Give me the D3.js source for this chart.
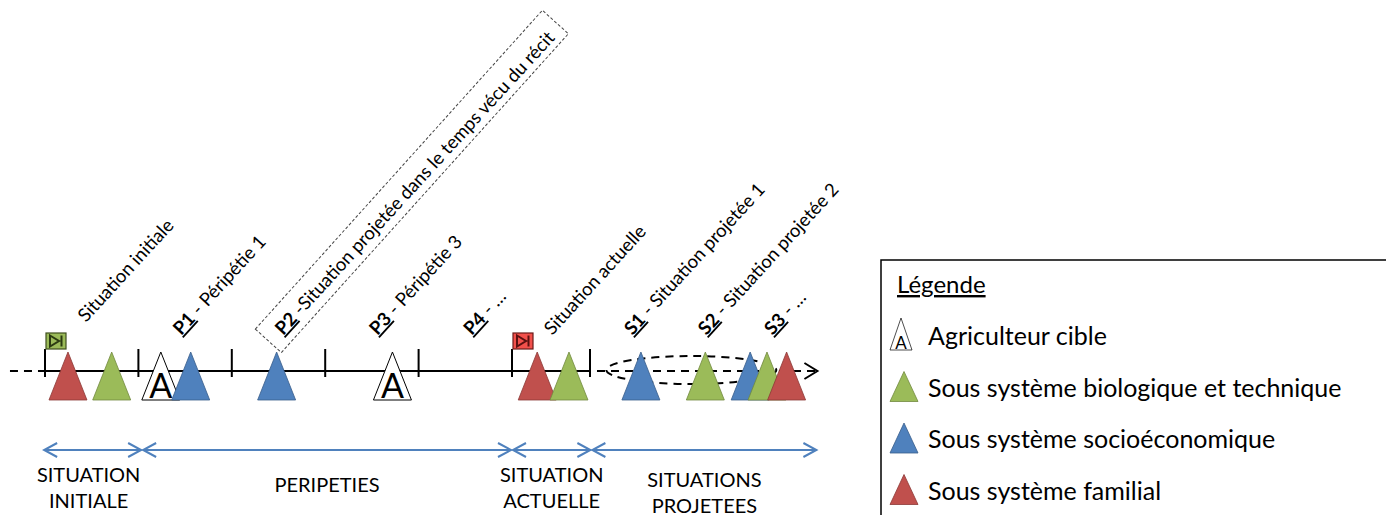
<!DOCTYPE html>
<html>
<head>
<meta charset="utf-8">
<script src="https://cdn.jsdelivr.net/npm/d3@7"></script>
<style>
  body { margin: 0; background: #fff; }
  text { font-family: Lato, "Open Sans", sans-serif; }
</style>
</head>
<body>
<script>
var WIDTH = 1386;
var HEIGHT = 515;

// timeline units: one unit = one interval between ticks
var ticks = [0, 1, 2, 3, 4, 5, 5.835];
var markerPos = [0.246, 0.714, 1.24, 1.56, 2.48, 3.72, 5.27, 5.61, 6.38, 7.07, 7.55, 7.73, 7.94];
var markerType = ["fam", "bio", "agri", "soc", "soc", "agri", "fam", "bio", "soc", "bio", "soc", "bio", "fam"];

var labelPos = [0.44, 1.46, 2.55, 3.56, 4.57, 5.43, 6.29, 7.08, 7.79];
var labelCode = ["", "P1", "P2", "P3", "P4", "", "S1", "S2", "S3"];
var labelText = ["Situation initiale", " - Péripétie 1", " -Situation projetée dans le temps vécu du récit",
  " - Péripétie 3", " - …", "Situation actuelle", " - Situation projetée 1", " - Situation projetée 2", " - …"];

var flagPos = [0, 5];
var flagType = ["start", "now"];

var phaseBounds = [-0.02, 1.04, 5.0, 5.85, 8.27];
var phaseLabels = [["SITUATION", "INITIALE"], ["PERIPETIES"], ["SITUATION", "ACTUELLE"], ["SITUATIONS", "PROJETEES"]];

var legendTypes = ["agri", "bio", "soc", "fam"];
var legendLabels = ["Agriculteur cible", "Sous système biologique et technique", "Sous système socioéconomique", "Sous système familial"];

var fills = { agri: "#ffffff", bio: "#9BBB59", soc: "#4F81BD", fam: "#C0504D" };
var strokes = { agri: "#000000", bio: "#71893F", soc: "#385D8A", fam: "#8C3836" };

var x = d3.scaleLinear().domain([0, 1]).range([45, 138.4]);
var LINE_Y = 371;
var ANGLE = -47.5;

var svg = d3.select("body")
  .append("svg")
  .attr("width", WIDTH)
  .attr("height", HEIGHT);

// dashed parts of the timeline
svg.append("line")
  .attr("x1", x(-0.375)).attr("x2", x(0))
  .attr("y1", LINE_Y).attr("y2", LINE_Y)
  .attr("stroke", "#000").attr("stroke-width", 2)
  .attr("stroke-dasharray", "8,6");

svg.append("line")
  .attr("x1", x(5.835) + 7).attr("x2", x(8.27))
  .attr("y1", LINE_Y).attr("y2", LINE_Y)
  .attr("stroke", "#000").attr("stroke-width", 2)
  .attr("stroke-dasharray", "8,6");

svg.append("path")
  .attr("d", "M" + (x(8.27) - 13) + "," + (LINE_Y - 8) + "L" + x(8.27) + "," + LINE_Y + "L" + (x(8.27) - 13) + "," + (LINE_Y + 8))
  .attr("fill", "none").attr("stroke", "#000").attr("stroke-width", 2);

// future cycle
svg.append("ellipse")
  .attr("cx", x(6.92)).attr("cy", LINE_Y - 1)
  .attr("rx", 85).attr("ry", 14)
  .attr("fill", "none").attr("stroke", "#000").attr("stroke-width", 2)
  .attr("stroke-dasharray", "8,6");

// solid timeline
svg.append("line")
  .attr("x1", x(0)).attr("x2", x(5.835))
  .attr("y1", LINE_Y).attr("y2", LINE_Y)
  .attr("stroke", "#000").attr("stroke-width", 2);

svg.selectAll(".tick")
  .data(ticks)
  .enter()
  .append("line")
  .attr("class", "tick")
  .attr("x1", function (d) { return x(d); })
  .attr("x2", function (d) { return x(d); })
  .attr("y1", LINE_Y - 22).attr("y2", LINE_Y + 6)
  .attr("stroke", "#000").attr("stroke-width", 2);

// flags
var flags = svg.selectAll(".flag")
  .data(flagPos)
  .enter()
  .append("g")
  .attr("class", "flag")
  .attr("transform", function (d) { return "translate(" + (x(d) + 1) + ",333)"; });

flags.append("rect")
  .attr("width", 20).attr("height", 16)
  .attr("fill", function (d, i) { return flagType[i] == "start" ? "#9BBB59" : "#F2504B"; })
  .attr("stroke", function (d, i) { return flagType[i] == "start" ? "#3F4F1F" : "#6B1A18"; })
  .attr("stroke-width", 1.2);

flags.append("path")
  .attr("d", "M4,2.5L13,8L4,13.5Z M15.5,2.5V13.5")
  .attr("fill", "none")
  .attr("stroke", function (d, i) { return flagType[i] == "start" ? "#2B3A12" : "#5A1010"; })
  .attr("stroke-width", 2);

// triangles
var TW = 38, TH = 48, BASE = 400;
var markers = svg.selectAll(".marker")
  .data(markerPos)
  .enter()
  .append("g")
  .attr("class", "marker")
  .attr("transform", function (d) { return "translate(" + x(d) + "," + BASE + ")"; });

markers.append("path")
  .attr("d", "M0," + (-TH) + "L" + (TW / 2) + ",0L" + (-TW / 2) + ",0Z")
  .attr("fill", function (d, i) { return fills[markerType[i]]; })
  .attr("stroke", function (d, i) { return strokes[markerType[i]]; })
  .attr("stroke-width", function (d, i) { return markerType[i] == "agri" ? 1 : 0.8; });

markers.filter(function (d, i) { return markerType[i] == "agri"; })
  .append("text")
  .attr("text-anchor", "middle")
  .attr("y", -2)
  .attr("font-size", 34)
  .attr("fill", "#000")
  .text("A");

// dashed box around P2
var p2 = labelCode.indexOf("P2");
svg.append("rect")
  .attr("x", -11).attr("y", -19.5)
  .attr("width", 429).attr("height", 35)
  .attr("transform", "translate(" + (x(labelPos[p2]) - 6) + ",334) rotate(-48)")
  .attr("fill", "none").attr("stroke", "#444").attr("stroke-width", 1)
  .attr("stroke-dasharray", "3,2");

// rotated labels
var labels = svg.selectAll(".label")
  .data(labelPos)
  .enter()
  .append("text")
  .attr("class", "label")
  .attr("font-size", 18.5)
  .attr("fill", "#000")
  .attr("transform", function (d, i) {
    var y = i == 0 ? 323 : 336;
    return "translate(" + x(d) + "," + y + ") rotate(" + ANGLE + ")";
  });

labels.append("tspan")
  .attr("font-weight", "bold")
  .attr("text-decoration", "underline")
  .text(function (d, i) { return labelCode[i]; });

labels.append("tspan")
  .text(function (d, i) { return labelText[i]; });

// phase arrows
var BLUE = "#4F81BD", ARROW_Y = 450;
var phases = d3.range(phaseLabels.length).map(function (i) {
  return { a: x(phaseBounds[i]) + 1, b: x(phaseBounds[i + 1]) - 1, lines: phaseLabels[i] };
});

var ph = svg.selectAll(".phase")
  .data(phases)
  .enter()
  .append("g")
  .attr("class", "phase");

ph.append("line")
  .attr("x1", function (d) { return d.a; })
  .attr("x2", function (d) { return d.b; })
  .attr("y1", ARROW_Y).attr("y2", ARROW_Y)
  .attr("stroke", BLUE).attr("stroke-width", 2);

ph.append("path")
  .attr("d", function (d) {
    return "M" + (d.a + 13) + "," + (ARROW_Y - 7) + "L" + d.a + "," + ARROW_Y + "L" + (d.a + 13) + "," + (ARROW_Y + 7) +
      "M" + (d.b - 13) + "," + (ARROW_Y - 7) + "L" + d.b + "," + ARROW_Y + "L" + (d.b - 13) + "," + (ARROW_Y + 7);
  })
  .attr("fill", "none").attr("stroke", BLUE).attr("stroke-width", 2);

ph.each(function (d, i) {
  var g = d3.select(this);
  var y0 = d.lines.length == 1 ? 492 : (i == 3 ? 487 : 482);
  var cx = (d.a + d.b) / 2 + (i == 0 ? -4 : 0);
  d.lines.forEach(function (t, j) {
    g.append("text")
      .attr("x", cx)
      .attr("y", y0 + j * 26)
      .attr("text-anchor", "middle")
      .attr("font-size", 20)
      .attr("fill", "#000")
      .text(t);
  });
});

// legend
var legend = svg.append("g").attr("transform", "translate(881,260)");

legend.append("rect")
  .attr("width", 540).attr("height", 300)
  .attr("fill", "#fff").attr("stroke", "#000").attr("stroke-width", 1.5);

legend.append("text")
  .attr("x", 16).attr("y", 33)
  .attr("font-size", 24)
  .attr("text-decoration", "underline")
  .text("Légende");

var items = legend.selectAll(".item")
  .data(legendTypes)
  .enter()
  .append("g")
  .attr("class", "item")
  .attr("transform", function (d, i) { return "translate(0," + (85 + i * 51.5) + ")"; });

items.append("path")
  .attr("d", function (d) {
    var w = d == "agri" ? 22 : 28, h = d == "agri" ? 32 : 30;
    return "M" + (9 + w / 2) + "," + (5 - h) + "L" + (9 + w) + ",5L9,5Z";
  })
  .attr("fill", function (d) { return fills[d]; })
  .attr("stroke", function (d) { return strokes[d]; })
  .attr("stroke-width", function (d) { return d == "agri" ? 0.7 : 0.8; });

items.filter(function (d) { return d == "agri"; })
  .append("text")
  .attr("x", 20).attr("y", 4)
  .attr("text-anchor", "middle")
  .attr("font-size", 17)
  .text("A");

items.append("text")
  .attr("x", 47).attr("y", 0)
  .attr("font-size", 25)
  .attr("fill", "#000")
  .text(function (d, i) { return legendLabels[i]; });
</script>
</body>
</html>
